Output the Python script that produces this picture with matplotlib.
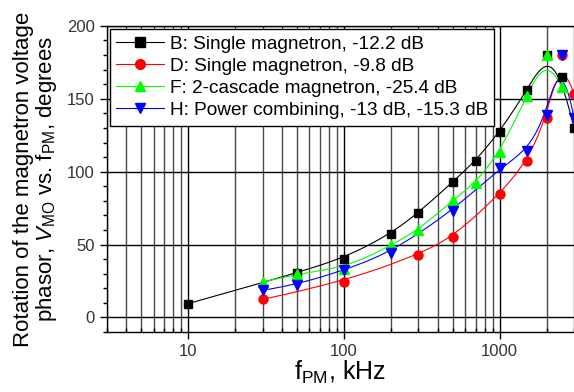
import numpy as np
import matplotlib
matplotlib.use('Agg')
import matplotlib.pyplot as plt
from matplotlib.ticker import LogLocator, NullFormatter, FixedLocator, FixedFormatter

plt.rcParams['font.family'] = ['Liberation Sans', 'DejaVu Sans']
plt.rcParams['mathtext.fontset'] = 'custom'
plt.rcParams['mathtext.rm'] = 'Liberation Sans'
plt.rcParams['mathtext.it'] = 'Liberation Sans:italic'

# ---------------------------------------------------------------------
# data (kHz, degrees)
# ---------------------------------------------------------------------
freq_B = [10, 50, 100, 200, 300, 500, 700, 1000, 1500, 2000, 2500, 3000]
rot_B = [9.5, 30.5, 40.3, 57.5, 71.7, 93, 107.5, 127.4, 156, 180, 165, 130]

freq_D = [30, 100, 300, 500, 1000, 1500, 2000, 2500, 3000]
rot_D = [12.4, 24.3, 43, 55, 84.5, 107.2, 136.5, 180, 153]

freq_F = [30, 50, 100, 200, 300, 500, 700, 1000, 1500, 2000, 2500]
rot_F = [24.3, 30, 33, 49.5, 59.8, 80.4, 92.3, 113.4, 152, 180, 158]

freq_H = [30, 50, 100, 200, 500, 1000, 1500, 2000, 2500, 3000]
rot_H = [18.6, 22.5, 32.3, 44.5, 73.3, 102.2, 114.5, 139, 180, 137]

labels = ['B: Single magnetron, -12.2 dB',
          'D: Single magnetron, -9.8 dB',
          'F: 2-cascade magnetron, -25.4 dB',
          'H: Power combining, -13 dB, -15.3 dB']


def bspline(xs, ys, npts=400):
    """clamped cubic B-spline through control points (x in log space)"""
    P = np.column_stack([np.log10(xs), ys])
    n = len(P) - 1
    k = 3
    knots = np.concatenate([[0] * (k + 1), np.arange(1, n - k + 1), [n - k + 1] * (k + 1)]).astype(float)
    t = np.linspace(0, knots[-1], npts)
    t[-1] -= 1e-9
    # Cox-de Boor
    N = np.zeros((npts, len(knots) - 1))
    for i in range(len(knots) - 1):
        N[:, i] = (t >= knots[i]) & (t < knots[i + 1])
    for d in range(1, k + 1):
        Nn = np.zeros((npts, len(knots) - 1 - d))
        for i in range(len(knots) - 1 - d):
            a = knots[i + d] - knots[i]
            b = knots[i + d + 1] - knots[i + 1]
            left = (t - knots[i]) / a * N[:, i] if a > 0 else 0
            right = (knots[i + d + 1] - t) / b * N[:, i + 1] if b > 0 else 0
            Nn[:, i] = left + right
        N = Nn
    C = N @ P
    return 10 ** C[:, 0], C[:, 1]


fig = plt.figure(figsize=(5.74, 3.92), dpi=100)
ax = fig.add_axes([0.186, 0.153, 0.814, 0.781])

series = [(freq_B, rot_B, 'black', 's', 6.0),
          (freq_D, rot_D, 'red', 'o', 6.5),
          (freq_F, rot_F, '#00ff00', '^', 7.0),
          (freq_H, rot_H, 'blue', 'v', 7.0)]

for (fx, fy, col, mk, ms), lab in zip(series, labels):
    cx, cy = bspline(fx, fy)
    ax.plot(cx, cy, color=col, lw=0.8, zorder=3)
    ax.plot(fx, fy, ls='none', marker=mk, ms=ms, color=col, mec=col, zorder=4)
    # proxy for legend
    ax.plot([], [], color=col, lw=0.8, marker=mk, ms=ms + 0.5, label=lab)

ax.set_xscale('log')
ax.set_xlim(3, 3000)
ax.set_ylim(-10, 200)

ax.xaxis.set_major_locator(FixedLocator([10, 100, 1000]))
ax.xaxis.set_major_formatter(FixedFormatter(['10', '100', '1000']))
ax.xaxis.set_minor_locator(LogLocator(base=10, subs=range(2, 10), numticks=20))
ax.xaxis.set_minor_formatter(NullFormatter())
ax.set_yticks([0, 50, 100, 150, 200])
ax.set_yticks(np.arange(-10, 201, 10), minor=True)

ax.grid(which='major', axis='both', color='black', lw=1.0)
ax.grid(which='minor', axis='x', color='#4a4a4a', lw=1.0)
ax.set_axisbelow(True)

ax.spines['right'].set_visible(False)
for s in ['left', 'bottom', 'top']:
    ax.spines[s].set_linewidth(1.0)

ax.tick_params(axis='both', which='major', direction='out', length=5, width=1,
               labelsize=12, labelcolor='#333333')
ax.tick_params(axis='y', which='minor', direction='out', length=3, width=1)
ax.tick_params(axis='x', which='minor', direction='in', length=3, width=1)

ax.set_xlabel('f$_{\\mathrm{PM}}$, kHz', fontsize=18, labelpad=0)
ax.set_ylabel('Rotation of the magnetron voltage\n'
              'phasor, $\\mathit{V}_{\\mathrm{MO}}$ vs. f$_{\\mathrm{PM}}$, degrees',
              fontsize=16, linespacing=1.0, labelpad=6)

leg = ax.legend(loc='upper left', bbox_to_anchor=(0.006, 0.99), borderaxespad=0,
                fontsize=13.7, handlelength=2.5, handletextpad=0.3, labelspacing=0.25,
                borderpad=0.35, fancybox=False, framealpha=1, edgecolor='black')
leg.get_frame().set_linewidth(1.0)
leg.set_zorder(5)

plt.savefig('out.png', dpi=100)
plt.close()
